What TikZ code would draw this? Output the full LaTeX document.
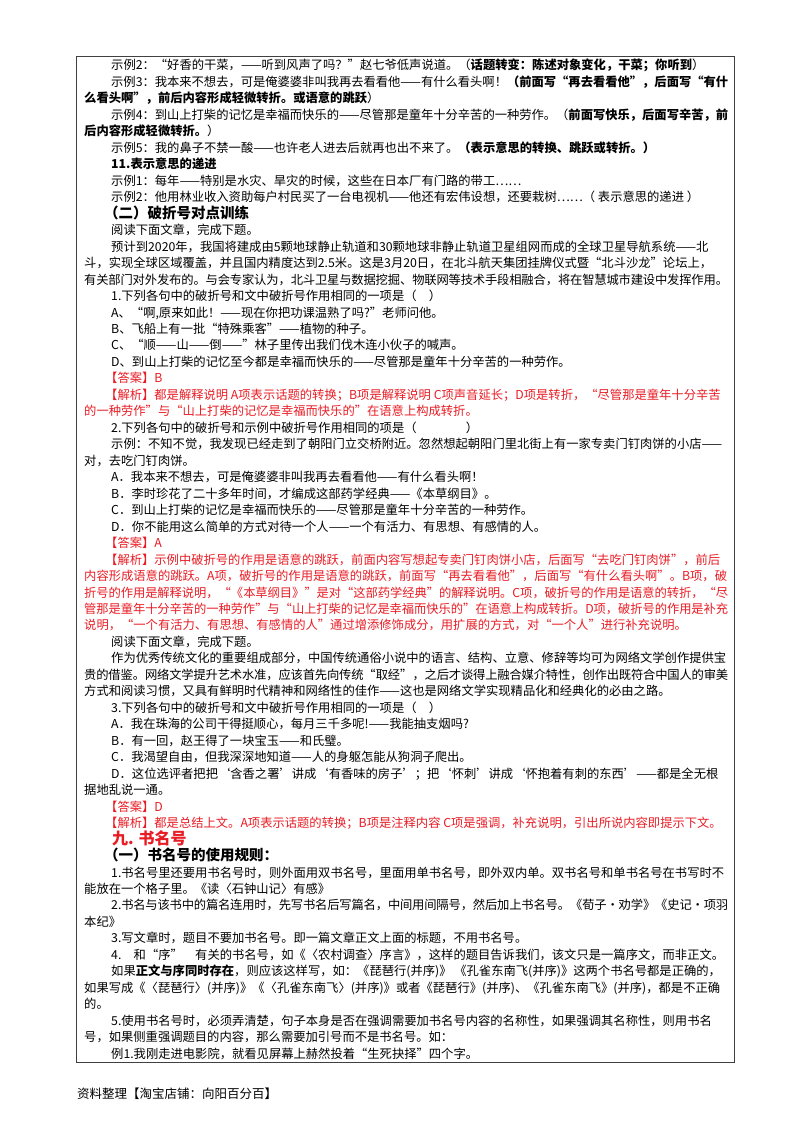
\documentclass[tikz,border=0pt]{standalone}
\usepackage{fontspec}
\setmainfont{Noto Sans CJK SC}
\XeTeXlinebreaklocale "zh"
\XeTeXlinebreakskip=0pt plus 3pt minus 1pt
\definecolor{ansred}{RGB}{232,28,36}
\newcommand\Ln[3]{\node[txt] (n#2) at (#1,{-(70+(#2-1)*16.47)}) {#3};}
\newcommand\Fl[4]{\node[txt,text width=#4pt,align=justify] (n#2) at (#1,{-(70+(#2-1)*16.47)}) {\tolerance=9999\parfillskip=0pt\relax #3};}
\begin{document}
\begin{tikzpicture}[x=1pt,y=1pt,
  txt/.style={anchor=base west,inner sep=0,font=\fontsize{12.3}{14}\selectfont},
  hd/.style={font=\fontsize{14.5}{16}\selectfont\bfseries}]
\useasboundingbox (0,0) rectangle (800,-1132);
\draw[line width=1pt,black!75] (76,-57) rectangle (734,-1062);
\Ln{111}{1}{示例2：“好香的干菜，——听到风声了吗？”赵七爷低声说道。（\textbf{话题转变：陈述对象变化，干菜；你听到}）}
\Fl{111}{2}{示例3：我本来不想去，可是俺婆婆非叫我再去看看他——有什么看头啊！\textbf{（前面写“再去看看他”，后面写“有什}}{617}
\Ln{84}{3}{\textbf{么看头啊”，前后内容形成轻微转折。或语意的跳跃}）}
\Fl{111}{4}{示例4：到山上打柴的记忆是幸福而快乐的——尽管那是童年十分辛苦的一种劳作。（\textbf{前面写快乐，后面写辛苦，前}}{617}
\Ln{84}{5}{\textbf{后内容形成轻微转折。}）}
\Ln{111}{6}{示例5：我的鼻子不禁一酸——也许老人进去后就再也出不来了。\textbf{（表示意思的转换、跳跃或转折。）}}
\Ln{111}{7}{\textbf{11.表示意思的递进}}
\Ln{111}{8}{示例1：每年——特别是水灾、旱灾的时候，这些在日本厂有门路的带工……}
\Ln{111}{9}{示例2：他用林业收入资助每户村民买了一台电视机——他还有宏伟设想，还要栽树……（ 表示意思的递进 ）}
\node[txt,hd] (n10) at (104,{-(70+9*16.47)}) {（二）破折号对点训练};
\Ln{111}{11}{阅读下面文章，完成下题。}
\Fl{111}{12}{预计到2020年，我国将建成由5颗地球静止轨道和30颗地球非静止轨道卫星组网而成的全球卫星导航系统——北}{617}
\Fl{84}{13}{斗，实现全球区域覆盖，并且国内精度达到2.5米。这是3月20日，在北斗航天集团挂牌仪式暨“北斗沙龙”论坛上，}{644}
\Fl{84}{14}{有关部门对外发布的。与会专家认为，北斗卫星与数据挖掘、物联网等技术手段相融合，将在智慧城市建设中发挥作用。}{644}
\Ln{111}{15}{1.下列各句中的破折号和文中破折号作用相同的一项是（　）}
\Ln{111}{16}{A、“啊,原来如此！——现在你把功课温熟了吗?”老师问他。}
\Ln{111}{17}{B、飞船上有一批“特殊乘客”——植物的种子。}
\Ln{111}{18}{C、“顺——山——倒——”林子里传出我们伐木连小伙子的喊声。}
\Ln{111}{19}{D、到山上打柴的记忆至今都是幸福而快乐的——尽管那是童年十分辛苦的一种劳作。}
\Ln{105}{20}{\color{ansred}【答案】B}
\Fl{105}{21}{\color{ansred}【解析】都是解释说明 A项表示话题的转换；B项是解释说明 C项声音延长；D项是转折，“尽管那是童年十分辛苦}{623}
\Ln{84}{22}{\color{ansred}的一种劳作”与“山上打柴的记忆是幸福而快乐的”在语意上构成转折。}
\Ln{111}{23}{2.下列各句中的破折号和示例中破折号作用相同的项是（　　　　）}
\Fl{111}{24}{示例：不知不觉，我发现已经走到了朝阳门立交桥附近。忽然想起朝阳门里北街上有一家专卖门钉肉饼的小店——}{617}
\Ln{84}{25}{对，去吃门钉肉饼。}
\Ln{111}{26}{A．我本来不想去，可是俺婆婆非叫我再去看看他——有什么看头啊！}
\Ln{111}{27}{B．李时珍花了二十多年时间，才编成这部药学经典——《本草纲目》。}
\Ln{111}{28}{C．到山上打柴的记忆是幸福而快乐的——尽管那是童年十分辛苦的一种劳作。}
\Ln{111}{29}{D．你不能用这么简单的方式对待一个人——一个有活力、有思想、有感情的人。}
\Ln{105}{30}{\color{ansred}【答案】A}
\Fl{105}{31}{\color{ansred}【解析】示例中破折号的作用是语意的跳跃，前面内容写想起专卖门钉肉饼小店，后面写“去吃门钉肉饼”，前后}{623}
\Fl{84}{32}{\color{ansred}内容形成语意的跳跃。A项，破折号的作用是语意的跳跃，前面写“再去看看他”，后面写“有什么看头啊”。B项，破}{644}
\Fl{84}{33}{\color{ansred}折号的作用是解释说明，“《本草纲目》”是对“这部药学经典”的解释说明。C项，破折号的作用是语意的转折，“尽}{644}
\Fl{84}{34}{\color{ansred}管那是童年十分辛苦的一种劳作”与“山上打柴的记忆是幸福而快乐的”在语意上构成转折。D项，破折号的作用是补充}{644}
\Ln{84}{35}{\color{ansred}说明，“一个有活力、有思想、有感情的人”通过增添修饰成分，用扩展的方式，对“一个人”进行补充说明。}
\Ln{111}{36}{阅读下面文章，完成下题。}
\Fl{111}{37}{作为优秀传统文化的重要组成部分，中国传统通俗小说中的语言、结构、立意、修辞等均可为网络文学创作提供宝}{617}
\Fl{84}{38}{贵的借鉴。网络文学提升艺术水准，应该首先向传统“取经”，之后才谈得上融合媒介特性，创作出既符合中国人的审美}{644}
\Fl{84}{39}{方式和阅读习惯，又具有鲜明时代精神和网络性的佳作——这也是网络文学实现精品化和经典化的必由之路。}{640}
\Ln{111}{40}{3.下列各句中的破折号和文中破折号作用相同的一项是（　）}
\Ln{111}{41}{A．我在珠海的公司干得挺顺心，每月三千多呢!——我能抽支烟吗?}
\Ln{111}{42}{B．有一回，赵王得了一块宝玉——和氏璧。}
\Ln{111}{43}{C．我渴望自由，但我深深地知道——人的身躯怎能从狗洞子爬出。}
\Fl{111}{44}{D．这位选评者把把‘含香之署’讲成‘有香味的房子’；把‘怀刺’讲成‘怀抱着有刺的东西’——都是全无根}{617}
\Ln{84}{45}{据地乱说一通。}
\Ln{105}{46}{\color{ansred}【答案】D}
\Ln{105}{47}{\color{ansred}【解析】都是总结上文。A项表示话题的转换；B项是注释内容 C项是强调，补充说明，引出所说内容即提示下文。}
\node[txt,text=ansred,font=\fontsize{16}{18}\selectfont\bfseries] (n48) at (112,{-(70+47*16.47)}) {九. 书名号};
\node[txt,hd] (n49) at (104,{-(70+48*16.47)}) {（一）书名号的使用规则：};
\Fl{111}{50}{1.书名号里还要用书名号时，则外面用双书名号，里面用单书名号，即外双内单。双书名号和单书名号在书写时不}{617}
\Ln{84}{51}{能放在一个格子里。《读〈石钟山记〉有感》}
\Fl{111}{52}{2.书名与该书中的篇名连用时，先写书名后写篇名，中间用间隔号，然后加上书名号。《荀子•劝学》《史记•项羽}{617}
\Ln{84}{53}{本纪》}
\Ln{111}{54}{3.写文章时，题目不要加书名号。即一篇文章正文上面的标题，不用书名号。}
\Ln{111}{55}{4.　和“序”　有关的书名号，如《〈农村调查〉序言》，这样的题目告诉我们，该文只是一篇序文，而非正文。}
\Fl{111}{56}{如果\textbf{正文与序同时存在}，则应该这样写，如：《琵琶行(并序)》 《孔雀东南飞(并序)》这两个书名号都是正确的，}{617}
\Fl{84}{57}{如果写成《〈琵琶行〉(并序)》《〈孔雀东南飞〉(并序)》或者《琵琶行》(并序)、《孔雀东南飞》(并序)，都是不正确}{644}
\Ln{84}{58}{的。}
\Fl{111}{59}{5.使用书名号时，必须弄清楚，句子本身是否在强调需要加书名号内容的名称性，如果强调其名称性，则用书名}{617}
\Ln{84}{60}{号，如果侧重强调题目的内容，那么需要加引号而不是书名号。如：}
\Ln{111}{61}{例1.我刚走进电影院，就看见屏幕上赫然投着“生死抉择”四个字。}
\node[txt,font=\fontsize{12.5}{14}\selectfont] (foot) at (77,-1098) {资料整理【淘宝店铺：向阳百分百】};
\end{tikzpicture}
\end{document}
